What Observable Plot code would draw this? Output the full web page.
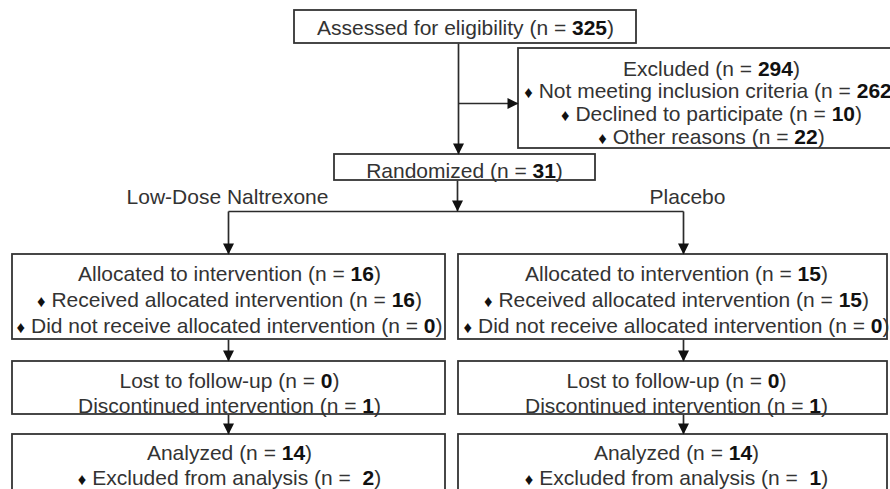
<!DOCTYPE html>
<html><head><meta charset="utf-8">
<script src="https://cdn.jsdelivr.net/npm/d3@7"></script>
<script src="https://cdn.jsdelivr.net/npm/@observablehq/plot@0.6"></script>
<style>
html,body{margin:0;padding:0;background:#fff;overflow:hidden;}
#chart svg{overflow:hidden;display:block;}
#chart svg text{white-space:pre;}
</style></head><body><div id="chart"></div>
<script>
// ---------- data ----------
const enrollmentLabels = ["Assessed for eligibility", "Excluded", "Not meeting inclusion criteria", "Declined to participate", "Other reasons", "Randomized"];
const enrollmentCounts = [325, 294, 262, 10, 22, 31];
const arms = ["Low-Dose Naltrexone", "Placebo"];
const allocated = [16, 15];
const received = [16, 15];
const notReceived = [0, 0];
const lostFollowUp = [0, 0];
const discontinued = [1, 1];
const analyzed = [14, 14];
const excludedAnalysis = [2, 1];

// ---------- layout (diagram units = pixels) ----------
const W = 890, H = 489;
const topBoxes = [
  {x1: 294, x2: 636, y1: 10, y2: 43},    // assessed
  {x1: 518, x2: 904, y1: 48, y2: 148},   // excluded
  {x1: 334, x2: 595, y1: 154, y2: 180}   // randomized
];
const armBoxX = [[12, 445], [458, 887]];
const armRows = [[254, 339], [361, 414], [434, 515]];
const armLineX = [228, 683];
const armTextX = [229, 676];
const armLabelX = [227, 687];
const trunkX = 458, splitY = 211, branchY = 103;

// ---------- build mark data ----------
const B = "\u2666 ";
const boxes = [...topBoxes];
armBoxX.forEach(([x1, x2]) => armRows.forEach(([y1, y2]) => boxes.push({x1, x2, y1, y2})));

const texts = [
  {x: 465, y: 34, t: `${enrollmentLabels[0]} (n = {${enrollmentCounts[0]}})`},
  {x: 711, y: 75, t: `${enrollmentLabels[1]} (n = {${enrollmentCounts[1]}})`},
  {x: 711, y: 97, t: `${B}${enrollmentLabels[2]} (n = {${enrollmentCounts[2]}})`},
  {x: 711, y: 120, t: `${B}${enrollmentLabels[3]} (n = {${enrollmentCounts[3]}})`},
  {x: 711, y: 143, t: `${B}${enrollmentLabels[4]} (n = {${enrollmentCounts[4]}})`},
  {x: 464, y: 177, t: `${enrollmentLabels[5]} (n = {${enrollmentCounts[5]}})`}
];
arms.forEach((a, i) => {
  const x = armTextX[i];
  texts.push({x: armLabelX[i], y: 203, t: a});
  texts.push({x, y: 280, t: `Allocated to intervention (n = {${allocated[i]}})`});
  texts.push({x, y: 306, t: `${B}Received allocated intervention (n = {${received[i]}})`});
  texts.push({x, y: 332, t: `${B}Did not receive allocated intervention (n = {${notReceived[i]}})`});
  texts.push({x, y: 387, t: `Lost to follow-up (n = {${lostFollowUp[i]}})`});
  texts.push({x, y: 412, t: `Discontinued intervention (n = {${discontinued[i]}})`});
  texts.push({x, y: 459, t: `Analyzed (n = {${analyzed[i]}})`});
  texts.push({x, y: 484, t: `${B}Excluded from analysis (n =  {${excludedAnalysis[i]}})`});
});

const links = [
  {x1: trunkX, y1: topBoxes[0].y2, x2: trunkX, y2: topBoxes[2].y1},
  {x1: trunkX, y1: branchY, x2: topBoxes[1].x1, y2: branchY},
  {x1: 457, y1: topBoxes[2].y2, x2: 457, y2: splitY},
  {x1: armLineX[0], y1: splitY, x2: armLineX[1], y2: splitY}
];
const downHeads = [
  {x: trunkX, y: topBoxes[2].y1},
  {x: 457, y: splitY}
];
armLineX.forEach(x => {
  links.push({x1: x, y1: splitY, x2: x, y2: armRows[0][0]});
  downHeads.push({x, y: armRows[0][0]});
  for (let r = 1; r < armRows.length; r++) {
    links.push({x1: x, y1: armRows[r - 1][1], x2: x, y2: armRows[r][0]});
    downHeads.push({x, y: armRows[r][0]});
  }
});
const rightHeads = [{x: topBoxes[1].x1, y: branchY}];

// custom arrowhead symbols, tip at origin
const triDown = {draw(ctx, size) { const r = Math.sqrt(size / Math.PI); ctx.moveTo(0, 0); ctx.lineTo(-r, -2 * r); ctx.lineTo(r, -2 * r); ctx.closePath(); }};
const triRight = {draw(ctx, size) { const r = Math.sqrt(size / Math.PI); ctx.moveTo(0, 0); ctx.lineTo(-2 * r, -r); ctx.lineTo(-2 * r, r); ctx.closePath(); }};

const FONT = "Liberation Sans, Arial, Helvetica, sans-serif";
const ink = "#2b2b2b";

const chart = Plot.plot({
  width: W, height: H, margin: 0,
  x: {domain: [0, W], range: [0, W], axis: null},
  y: {domain: [0, H], range: [0, H], axis: null},
  style: {background: "#fff", fontFamily: FONT},
  marks: [
    Plot.link(links, {x1: "x1", y1: "y1", x2: "x2", y2: "y2", stroke: ink, strokeWidth: 1.7}),
    Plot.rect(boxes, {x1: "x1", x2: "x2", y1: "y1", y2: "y2", fill: "#fff", stroke: "#333", strokeWidth: 1.8}),
    Plot.dot(downHeads, {x: "x", y: "y", symbol: triDown, r: 5.5, fill: "#111", stroke: "none"}),
    Plot.dot(rightHeads, {x: "x", y: "y", symbol: triRight, r: 5.5, fill: "#111", stroke: "none"}),
    Plot.text(texts, {x: "x", y: "y", text: "t", textAnchor: "middle", lineAnchor: "bottom",
      fontSize: 21, fontFamily: FONT, fill: "#333"})
  ]
});

// rich text: bold counts, small diamond bullets
const NS = "http://www.w3.org/2000/svg";
chart.querySelectorAll("text").forEach(t => {
  let s = t.textContent;
  if (!/[{\u2666]/.test(s)) return;
  t.textContent = "";
  if (s.startsWith("\u2666")) {
    const b = document.createElementNS(NS, "tspan");
    b.setAttribute("font-size", "0.8em");
    b.setAttribute("fill", "#111");
    b.textContent = "\u2666";
    t.appendChild(b);
    s = s.slice(1);
  }
  s.split(/(\{[^}]*\})/).forEach(part => {
    if (!part) return;
    const sp = document.createElementNS(NS, "tspan");
    if (part.startsWith("{")) {
      sp.setAttribute("font-weight", "bold");
      sp.setAttribute("fill", "#111");
      part = part.slice(1, -1);
    }
    sp.textContent = part;
    t.appendChild(sp);
  });
});

document.getElementById("chart").appendChild(chart);
</script></body></html>
